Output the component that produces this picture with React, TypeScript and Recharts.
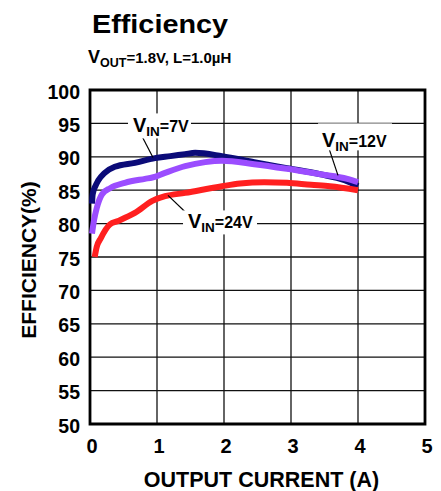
import React from "react";
import {
  LineChart,
  Line,
  XAxis,
  YAxis,
  CartesianGrid,
  ReferenceArea,
  ReferenceLine,
  ReferenceDot,
} from "recharts";

// ---- data ----
const xTicks = [0, 1, 2, 3, 4, 5];
const yTicks = [50, 55, 60, 65, 70, 75, 80, 85, 90, 95, 100];

const vin7Current = [0.03, 0.04, 0.08, 0.12, 0.22, 0.37, 0.67, 0.97, 1.2, 1.42, 1.57, 1.97, 2.45, 2.94, 3.43, 3.8, 4.0];
const vin7Eff = [83.0, 84.4, 85.6, 86.4, 87.6, 88.5, 89.1, 89.8, 90.1, 90.4, 90.6, 90.1, 89.2, 88.3, 87.4, 86.5, 85.6];

const vin12Current = [0.03, 0.06, 0.1, 0.18, 0.3, 0.52, 0.82, 0.93, 1.12, 1.42, 1.72, 1.97, 2.45, 2.94, 3.43, 3.84, 4.0];
const vin12Eff = [78.5, 80.5, 82.3, 84.4, 85.3, 86.1, 86.7, 86.9, 87.6, 88.6, 89.2, 89.4, 88.9, 88.2, 87.4, 86.7, 86.2];

const vin24Current = [0.07, 0.1, 0.16, 0.3, 0.42, 0.67, 0.93, 1.12, 1.42, 1.97, 2.24, 2.6, 2.94, 3.3, 3.58, 4.0];
const vin24Eff = [75.0, 76.5, 77.8, 79.9, 80.4, 81.6, 83.4, 84.1, 84.6, 85.6, 86.0, 86.2, 86.1, 85.8, 85.6, 85.0];

const seriesLabels = ["7V", "12V", "24V"];

const toRows = (xs: number[], ys: number[]) => xs.map((x, i) => ({ x, y: ys[i] }));
const vin7Data = toRows(vin7Current, vin7Eff);
const vin12Data = toRows(vin12Current, vin12Eff);
const vin24Data = toRows(vin24Current, vin24Eff);

// annotation anchors (data coords)
const labelAnchors = [
  { x: 0.642, y: 93.65, text: seriesLabels[0], box: [-5, -19, 63, 25] },
  { x: 3.463, y: 91.41, text: seriesLabels[1], box: [-4, -24, 74, 27] },
  { x: 1.463, y: 79.28, text: seriesLabels[2], box: [-5, -18, 74, 24] },
];
const leaders = [
  [{ x: 0.716, y: 94.25 }, { x: 0.94, y: 89.91 }],
  [{ x: 3.552, y: 91.71 }, { x: 3.701, y: 87.22 }],
  [{ x: 1.164, y: 84.22 }, { x: 1.493, y: 81.07 }],
];

const FONT = "'Liberation Sans', Arial, Helvetica, sans-serif";

const makeLabel = (text: string, box: number[]) => (props: any) => {
  const { cx, cy } = props;
  return (
    <g>
      <rect x={cx + box[0]} y={cy + box[1]} width={box[2]} height={box[3]} fill="#fff" />
      <text x={cx} y={cy} fontFamily={FONT} fontWeight="bold" fill="#000">
        <tspan fontSize={20}>V</tspan>
        <tspan fontSize={13.5} dy={4}>IN</tspan>
        <tspan fontSize={16} dy={-4}>={text}</tspan>
      </text>
    </g>
  );
};

const YTick = (p: any) => (
  <text x={p.x} y={p.y + 8.5} textAnchor="end" fontFamily={FONT} fontWeight="bold" fontSize={19.5} fill="#000">
    {p.payload.value}
  </text>
);
const XTick = (p: any) => (
  <text x={p.x + 2} y={p.y + 29} textAnchor="middle" fontFamily={FONT} fontWeight="bold" fontSize={20} fill="#000">
    {p.payload.value}
  </text>
);

export default function App() {
  return (
    <div style={{ position: "absolute", left: 0, top: 0, width: 441, height: 491, background: "#fff" }}>
      <svg width={441} height={90} style={{ position: "absolute", left: 0, top: 0, zIndex: 2 }}>
        <text x={92} y={33} fontFamily={FONT} fontWeight="bold" fontSize={26} textLength={136} lengthAdjust="spacingAndGlyphs" fill="#000">
          Efficiency
        </text>
        <text x={88} y={63} fontFamily={FONT} fontWeight="bold" fill="#000">
          <tspan fontSize={18}>V</tspan>
          <tspan fontSize={12.5} dy={4}>OUT</tspan>
          <tspan fontSize={15} dy={-4}>=1.8V, L=1.0µH</tspan>
        </text>
      </svg>
      <LineChart width={441} height={491} data={vin7Data} margin={{ top: 90, right: 16, bottom: 0, left: 0 }}>
        <CartesianGrid stroke="#111" strokeWidth={1.3} />
        <XAxis
          type="number"
          dataKey="x"
          domain={[0, 5]}
          ticks={xTicks}
          height={67}
          axisLine={false}
          tickLine={false}
          tickSize={0}
          tickMargin={0}
          tick={<XTick />}
          interval={0}
          label={(props: any) => {
            const vb = props.viewBox;
            return (
              <text x={vb.x + vb.width / 2 + 4} y={vb.y + 63} textAnchor="middle" fontFamily={FONT} fontWeight="bold" fontSize={21.5} fill="#000">
                OUTPUT CURRENT (A)
              </text>
            );
          }}
        />
        <YAxis
          type="number"
          domain={[50, 100]}
          ticks={yTicks}
          width={90}
          axisLine={false}
          tickLine={false}
          tickSize={0}
          tickMargin={10}
          tick={<YTick />}
          interval={0}
          label={(props: any) => {
            const vb = props.viewBox;
            const cx = 28;
            const cy = vb.y + vb.height / 2 + 3;
            return (
              <text x={cx} y={cy} transform={`rotate(-90 ${cx} ${cy})`} textAnchor="middle" dominantBaseline="central" fontFamily={FONT} fontWeight="bold" fontSize={21} fill="#000">
                EFFICIENCY(%)
              </text>
            );
          }}
        />
        <ReferenceArea x1={0} x2={5} y1={50} y2={100} fill="none" stroke="#000" strokeWidth={2.8} ifOverflow="visible" />
        <Line data={vin7Data} dataKey="y" type="monotone" stroke="#0b0b78" strokeWidth={6} dot={false} isAnimationActive={false} />
        <Line data={vin12Data} dataKey="y" type="monotone" stroke="#9b4dff" strokeWidth={6} dot={false} isAnimationActive={false} />
        <Line data={vin24Data} dataKey="y" type="monotone" stroke="#ff1f1f" strokeWidth={6} dot={false} isAnimationActive={false} />
        {leaders.map((seg, i) => (
          <ReferenceLine key={"l" + i} segment={seg} stroke="#000" strokeWidth={1.2} ifOverflow="visible" />
        ))}
        {labelAnchors.map((a, i) => (
          <ReferenceDot key={"d" + i} x={a.x} y={a.y} r={0} ifOverflow="visible" shape={makeLabel(a.text, a.box)} />
        ))}
      </LineChart>
    </div>
  );
}
